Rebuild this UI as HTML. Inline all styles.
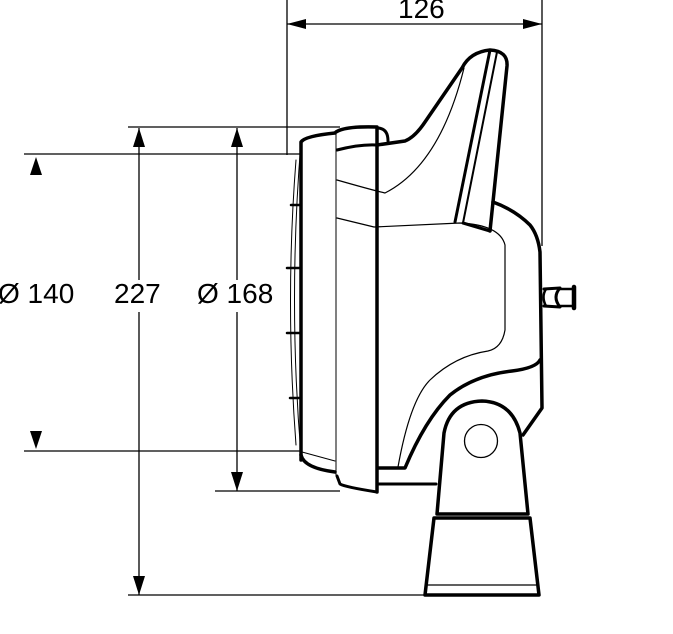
<!DOCTYPE html>
<html><head><style>
html,body{margin:0;padding:0;background:#fff;}
svg{display:block;}
text{font-family:"Liberation Sans",Arial,sans-serif;font-size:28px;fill:#000;}
</style></head><body>
<svg width="673" height="634" viewBox="0 0 673 634" xmlns="http://www.w3.org/2000/svg">
<g stroke="#000" stroke-width="1.3" fill="none">
 <!-- extension lines -->
 <line x1="287" y1="0" x2="287" y2="155"/>
 <line x1="542" y1="0" x2="542" y2="246"/>
 <line x1="287" y1="24" x2="542" y2="24"/>
 <line x1="128" y1="127" x2="340" y2="127"/>
 <line x1="24" y1="154" x2="302" y2="154"/>
 <line x1="24" y1="451" x2="302" y2="451"/>
 <line x1="215" y1="491" x2="340" y2="491"/>
 <line x1="128" y1="595" x2="430" y2="595"/>
 <line x1="139" y1="128" x2="139" y2="280"/>
 <line x1="139" y1="312" x2="139" y2="595"/>
 <line x1="237" y1="128" x2="237" y2="280"/>
 <line x1="237" y1="312" x2="237" y2="491"/>
</g>
<g fill="#000">
 <polygon points="287,24 306,19 306,29"/>
 <polygon points="542,24 523,19 523,29"/>
 <polygon points="139,128 133,147 145,147"/>
 <polygon points="139,595 133,576 145,576"/>
 <polygon points="237,128 231,147 243,147"/>
 <polygon points="237,491 231,472 243,472"/>
 <polygon points="36,157 30,175 42,175"/>
 <polygon points="36,449 30,431 42,431"/>
</g>
<text x="398" y="18">126</text>
<text x="-2" y="303">Ø 140</text>
<text x="114" y="303">227</text>
<text x="197" y="303">Ø 168</text>

<g stroke="#000" fill="none" stroke-linejoin="round" stroke-linecap="round">
 <!-- lens front -->
 <path d="M301,142 Q288,300 301,455" stroke-width="1"/>
 <path d="M296,160 Q285,300 296,445" stroke-width="1"/>
 <g stroke-width="2.5">
  <line x1="291" y1="205" x2="300" y2="205"/>
  <line x1="287" y1="268" x2="300" y2="268"/>
  <line x1="287" y1="333" x2="300" y2="333"/>
  <line x1="290" y1="398" x2="300" y2="398"/>
 </g>
 <!-- bezel front piece -->
 <path d="M301,460 L301,142 Q305,136 335,133" stroke-width="3.5"/>
 <path d="M301,455 Q304,468 335,472" stroke-width="3.5"/>
 <line x1="336" y1="133" x2="336" y2="475" stroke-width="1"/>
 <path d="M302,452 L335,461" stroke-width="1"/>
 <!-- second ring -->
 <path d="M336,132 Q345,126 377,127 L377,492" stroke-width="3.5"/>
 <path d="M337,476 L340,484 Q345,487 377,492" stroke-width="3"/>
 <path d="M377,128 Q388,128 388,141" stroke-width="3"/>
 <path d="M337,150 Q360,144 377,145" stroke-width="3"/>
 <!-- body top & fin -->
 <path d="M377,145 L405,141 Q415,137 425,122 L462,68 Q470,52 490,50 Q508,51 507,66 L490,231" stroke-width="3.5"/>
 <path d="M464,68 Q440,165 385,193 Q372,190 337,180" stroke-width="1.2"/>
 <path d="M490,50 L455,222" stroke-width="3"/>
 <path d="M497,52 L463,223" stroke-width="2"/>
 <path d="M463,223 L490,231" stroke-width="3"/>
 <path d="M337,218 L374,227 L460,223 Q500,225 505,245 L505,330 Q502,348 488,351 Q455,356 430,380 Q410,400 398,467" stroke-width="1.2"/>
 <!-- body back -->
 <path d="M493,202 Q515,210 530,225 Q538,235 540,252 L542,408 L523,435" stroke-width="3.5"/>
 <path d="M540,360 Q536,368 512,371 Q475,375 450,395 Q425,420 405,468 L378,468" stroke-width="3.5"/>
 <line x1="378" y1="484" x2="436" y2="484" stroke-width="3"/>
 <!-- plug -->
 <path d="M544,289 L560,288 Q552,297 560,307 L544,306" stroke-width="3"/>
 <path d="M546,289 Q541,297 546,306" stroke-width="2.5"/>
 <line x1="574" y1="287" x2="574" y2="308" stroke-width="4.5"/>
 <line x1="560" y1="289" x2="574" y2="289" stroke-width="2.5"/>
 <line x1="560" y1="306" x2="574" y2="306" stroke-width="2.5"/>
 <!-- mount -->
 <path d="M437,514 L444,433 Q450,402 482,401 Q512,402 520,433 L528,514 Z" stroke-width="3.5"/>
 <circle cx="481" cy="441" r="16.5" stroke-width="1.3"/>
 <path d="M434,518 L530,518 L539,595 L425,595 Z" stroke-width="3.5"/>
 <line x1="428" y1="585" x2="536" y2="585" stroke-width="1.3"/>
</g>
</svg>
</body></html>
